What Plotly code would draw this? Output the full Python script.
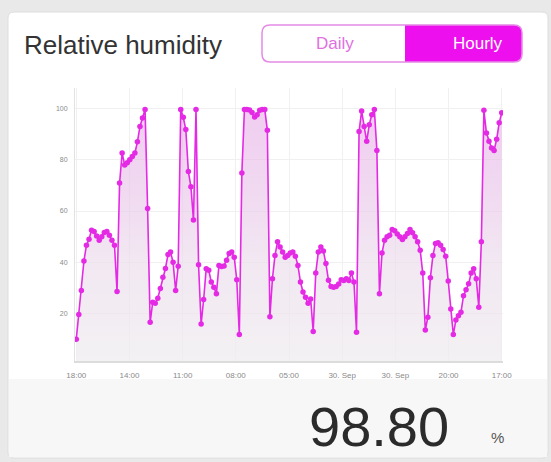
import plotly.graph_objects as go

# ---------------- data ----------------
humidity = [
    10, 19.6, 29, 40.5, 46.7, 49, 52.5, 52, 50.3, 48.6, 50, 51.6, 52, 50.6, 48.6, 46.7,
    28.6, 70.9, 82.6, 78, 78.8, 80, 81.3, 82.6, 87, 93, 96.3, 99.6, 61, 16.6,
    24.4, 24, 26, 29.8, 34.2, 37.6, 43, 44, 40, 29, 38.5, 99.6, 96.6, 91.8, 75.4, 69.5,
    56.5, 99.6, 39, 15.9, 25.5, 37.5, 36.9, 32.3, 30.3, 27.7, 38.8, 38.4, 38.6, 40.8,
    43.4, 44, 42, 33.2, 11.8, 74.8, 99.6, 99.6, 99.4, 98.4, 96.7, 97.6, 99.3, 99.6,
    99.6, 91.5, 18.8, 33.6, 42.7, 48, 46, 44, 42, 42.7, 43.6, 44, 42.4, 38.8, 32.3,
    28.4, 26.4, 24, 25.7, 13, 35.8, 44, 46, 44.4, 39.5, 33, 30.6, 30.3, 30.6, 31.5,
    33.2, 32.9, 33.6, 32.9, 35.8, 32.3, 12.7, 91, 99, 93, 87.2, 93.7, 97.6, 99.6, 83.6,
    27.7, 43.6, 48.6, 50, 50.6, 52.8, 52.3, 51, 50, 48.9, 50, 51.2, 52.8, 51.5, 50, 48,
    44.7, 35.8, 13.6, 18.6, 34, 42.7, 47.3, 47.6, 46.7, 45, 42.4, 32.7, 21.8, 11.8,
    17.5, 19.2, 20.5, 27, 29.3, 31.6, 35.8, 37.5, 33.6, 22.5, 48, 99.3, 90.4, 87.2,
    84.6, 83.6, 88, 94.4, 98.3,
]
x_tick_labels = ['18:00', '14:00', '11:00', '08:00', '05:00', '30. Sep', '30. Sep', '20:00', '17:00']
y_ticks = [20, 40, 60, 80, 100]
title_text = 'Relative humidity'
current_value = '98.80'
unit = '%'
tabs = ['Daily', 'Hourly']

N = len(humidity)
xs = list(range(N))
tickvals = [k * (N - 1) / 8 for k in range(len(x_tick_labels))]

W, H = 551, 462
L, R, T, B = 75, 503, 88, 361   # plot area in pixels


def px(x):
    return (x - L) / (R - L)


def py(y):
    return (B - y) / (B - T)


def rrect(x0, y0, x1, y1, r):
    a0, a1 = px(x0), px(x1)
    b0, b1 = py(y0), py(y1)
    rx = r / (R - L)
    ry = r / (B - T)
    return (f"M {a0+rx},{b0} L {a1-rx},{b0} Q {a1},{b0} {a1},{b0-ry} "
            f"L {a1},{b1+ry} Q {a1},{b1} {a1-rx},{b1} L {a0+rx},{b1} "
            f"Q {a0},{b1} {a0},{b1+ry} L {a0},{b0-ry} Q {a0},{b0} {a0+rx},{b0} Z")


def half_rrect_right(x0, y0, x1, y1, r):
    a0, a1 = px(x0), px(x1)
    b0, b1 = py(y0), py(y1)
    rx = r / (R - L)
    ry = r / (B - T)
    return (f"M {a0},{b0} L {a1-rx},{b0} Q {a1},{b0} {a1},{b0-ry} "
            f"L {a1},{b1+ry} Q {a1},{b1} {a1-rx},{b1} L {a0},{b1} Z")


MAG = '#e42ae4'
FONT = 'Liberation Sans, Arial'

fig = go.Figure()
fig.add_trace(go.Scatter(
    x=xs, y=humidity, mode='lines+markers',
    line=dict(color=MAG, width=1.6),
    marker=dict(color=MAG, size=5.5),
    fill='tozeroy',
    fillgradient=dict(type='vertical', start=0, stop=100,
                      colorscale=[[0, 'rgba(240,238,240,0.8)'], [0.4, 'rgba(236,222,236,0.7)'],
                                  [1, 'rgba(228,165,228,0.55)']]),
    hoverinfo='skip', showlegend=False,
))

shapes = []
# card
shapes.append(dict(type='path', xref='paper', yref='paper', path=rrect(8, 12, 548, 458, 6),
                   fillcolor='white', line=dict(color='#dddddd', width=1), layer='below'))
# bottom strip
shapes.append(dict(type='rect', xref='paper', yref='paper', x0=px(9), x1=px(547), y0=py(379), y1=py(457),
                   fillcolor='#f7f7f7', line=dict(width=0), layer='below'))
# segmented control
shapes.append(dict(type='path', xref='paper', yref='paper', path=half_rrect_right(405, 25, 522, 62, 8),
                   fillcolor='#ee0fee', line=dict(width=0), layer='above'))
shapes.append(dict(type='path', xref='paper', yref='paper', path=rrect(262, 25, 522, 62, 8),
                   fillcolor='rgba(0,0,0,0)', line=dict(color='#e58be5', width=1.5), layer='above'))

annotations = [
    dict(text=title_text, x=px(22), y=py(45), xref='paper', yref='paper', xanchor='left', yanchor='middle',
         showarrow=False, font=dict(family=FONT, size=26, color='#333333')),
    dict(text=tabs[0], x=px(335), y=py(44), xref='paper', yref='paper', xanchor='center', yanchor='middle',
         showarrow=False, font=dict(family=FONT, size=17, color='#e070e0')),
    dict(text=tabs[1], x=px(478), y=py(44), xref='paper', yref='paper', xanchor='center', yanchor='middle',
         showarrow=False, font=dict(family=FONT, size=17, color='white')),
    dict(text=current_value, x=px(451), y=py(426), xref='paper', yref='paper', xanchor='right', yanchor='middle',
         showarrow=False, font=dict(family=FONT, size=56, color='#2b2b2b')),
    dict(text=unit, x=px(497), y=py(437), xref='paper', yref='paper', xanchor='center', yanchor='middle',
         showarrow=False, font=dict(family=FONT, size=15, color='#555555')),
]

fig.update_layout(
    width=W, height=H,
    margin=dict(l=L, r=W - R, t=T, b=H - B, pad=0),
    paper_bgcolor='#e9e9e9', plot_bgcolor='rgba(0,0,0,0)',
    shapes=shapes, annotations=annotations,
    xaxis=dict(range=[-0.5, N - 0.5], tickvals=tickvals, ticktext=x_tick_labels,
               showgrid=True, gridcolor='#f0f0f0', gridwidth=1, zeroline=False,
               showline=True, linecolor='#dcdcdc', linewidth=1.5, ticks='',
               tickfont=dict(family=FONT, size=8, color='#8a8a8a'), ticklabelstandoff=6),
    yaxis=dict(range=[1.5, 108], tickvals=y_ticks, showgrid=True, gridcolor='#f0f0f0', zeroline=False,
               showline=True, linecolor='#e2e2e2', linewidth=1, ticks='',
               tickfont=dict(family=FONT, size=7, color='#8a8a8a'), ticklabelstandoff=5),
)

fig.write_html('out.html', config={'displayModeBar': False},
               post_script="document.body.style.margin='0';document.body.style.overflow='hidden';")
